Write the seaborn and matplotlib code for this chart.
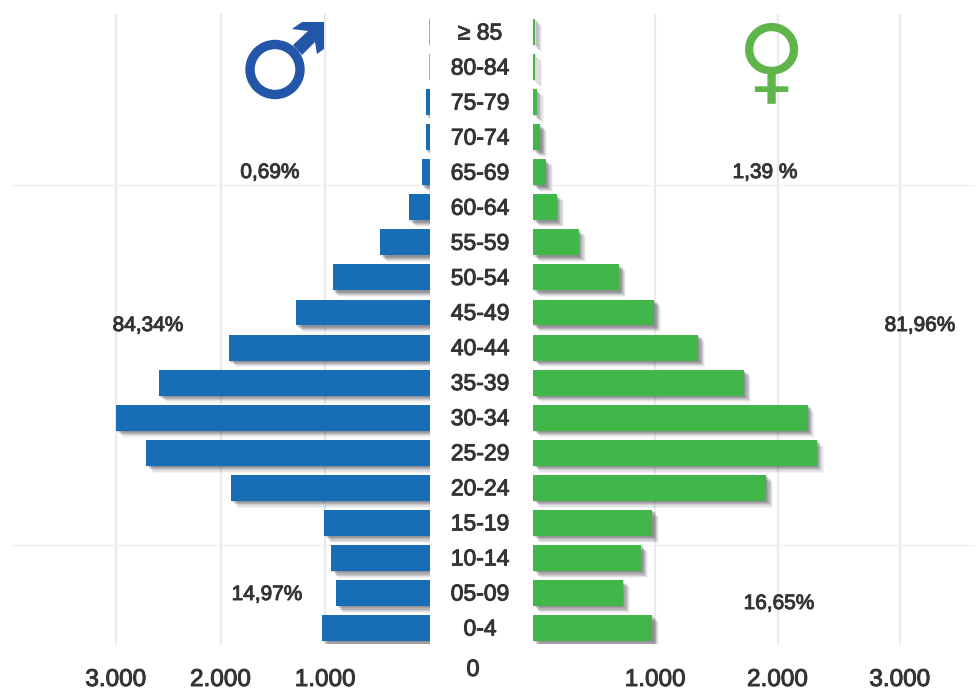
import pandas as pd
import numpy as np
import matplotlib
matplotlib.use("Agg")
import matplotlib.pyplot as plt
import matplotlib.patheffects as pe
from matplotlib.patches import Annulus, Polygon
from matplotlib.transforms import IdentityTransform, ScaledTranslation
import seaborn as sns

ages = ["≥ 85", "80-84", "75-79", "70-74", "65-69", "60-64", "55-59", "50-54", "45-49",
        "40-44", "35-39", "30-34", "25-29", "20-24", "15-19", "10-14", "05-09", "0-4"]
male = [5, 5, 40, 40, 80, 200, 475, 930, 1280, 1920, 2590, 3000, 2710, 1900, 1010, 945, 895, 1030]
female = [20, 15, 30, 60, 105, 195, 375, 705, 990, 1350, 1725, 2245, 2320, 1905, 975, 885, 735, 975]
ticks = [1000, 2000, 3000]
tick_labels = ["1.000", "2.000", "3.000"]

W, H = 976, 691
TXT = "#333338"
sns.set_style("white")
plt.rcParams["font.family"] = ["Liberation Sans", "DejaVu Sans"]

df = pd.DataFrame({"age": ages, "male": male, "female": female})
fig = plt.figure(figsize=(W / 100, H / 100), dpi=100)
# regular weight with a thin stroke, closer to the semi-bold of the original
semi = [pe.withStroke(linewidth=0.7, foreground=TXT)]


def make_ax(x0, x1, y0=14, y1=644):
    return fig.add_axes([x0 / W, 1 - y1 / H, (x1 - x0) / W, (y1 - y0) / H])


ax_l = make_ax(10, 430)
ax_r = make_ax(533, 975)
sns.barplot(data=df, y="age", x="male", color="#176DB6", saturation=1, width=0.74, linewidth=0, ax=ax_l)
sns.barplot(data=df, y="age", x="female", color="#41B649", saturation=1, width=0.74, linewidth=0, ax=ax_r)
ax_l.set_xlim(420 / 104.7 * 1000, 0)
ax_r.set_xlim(0, 442 / 122.3 * 1000)

shadow = [pe.SimplePatchShadow(offset=(o, -o), shadow_rgbFace="#50505c", alpha=a)
          for o, a in [(5, 0.06), (4.2, 0.10), (3.4, 0.15), (2.6, 0.2), (1.8, 0.2), (1, 0.2)]] + [pe.Normal()]
for ax in (ax_l, ax_r):
    ax.set_ylim(17.455, -0.513)
    ax.set_xlabel("")
    ax.set_ylabel("")
    ax.set_xticks(ticks)
    ax.set_xticklabels(tick_labels, fontsize=17.5, color=TXT, path_effects=semi)
    ax.tick_params(axis="x", length=0, pad=18)
    ax.grid(axis="x", color="#ebebee", lw=1.6)
    ax.set_axisbelow(True)
    sns.despine(ax=ax, left=True, bottom=True)
    for b in ax.patches:
        b.set_path_effects(shadow)
    ax.axhline(4.364, color="#f0f0f0", lw=1, zorder=0)
    ax.axhline(14.63, color="#f0f0f0", lw=1, zorder=0)

# the two top male bars are hairlines, a shadow turns them black
for b in ax_l.patches[:2]:
    b.set_path_effects([])
    b.set_snap(False)

ax_l.set_yticks([])
ax_r.set_yticks(range(len(ages)))
ax_r.set_yticklabels(ages, fontsize=16.5, color=TXT, ha="center", path_effects=semi)
ax_r.tick_params(axis="y", length=0, pad=(533 - 480) * 0.72)
up = ScaledTranslation(0, 1.5 / 100, fig.dpi_scale_trans)
for lab in ax_r.get_yticklabels():
    lab.set_transform(lab.get_transform() + up)


def label(x, y, s, fontsize=15):
    fig.text(x / W, 1 - y / H, s, ha="center", va="center", color=TXT,
             fontsize=fontsize, path_effects=semi)


label(270, 172.5, "0,69%")
label(765, 172.5, "1,39 %")
label(148, 325.5, "84,34%")
label(920, 325.5, "81,96%")
label(267, 594.5, "14,97%")
label(779, 603.5, "16,65%")
label(473, 670, "0", fontsize=17)

# male icon, it is a picture in the original and is cut at the top right
BLUE = "#2355A8"
fig.add_artist(Annulus((275, H - 69.5), 29, 8, color=BLUE, transform=IdentityTransform()))
arrow = [(292, 29), (302, 22), (324, 22), (324, 49), (317, 54), (315, 42), (302, 55), (293, 45), (308, 31)]
fig.add_artist(Polygon([(x, H - y) for x, y in arrow], color=BLUE, lw=0, transform=IdentityTransform()))
fig.text(771.5 / W, 1 - 65 / H, "♀", ha="center", va="center", color="#5FB54A",
         fontsize=68, family="DejaVu Sans", weight="bold")

fig.savefig("out.png", dpi=100)
